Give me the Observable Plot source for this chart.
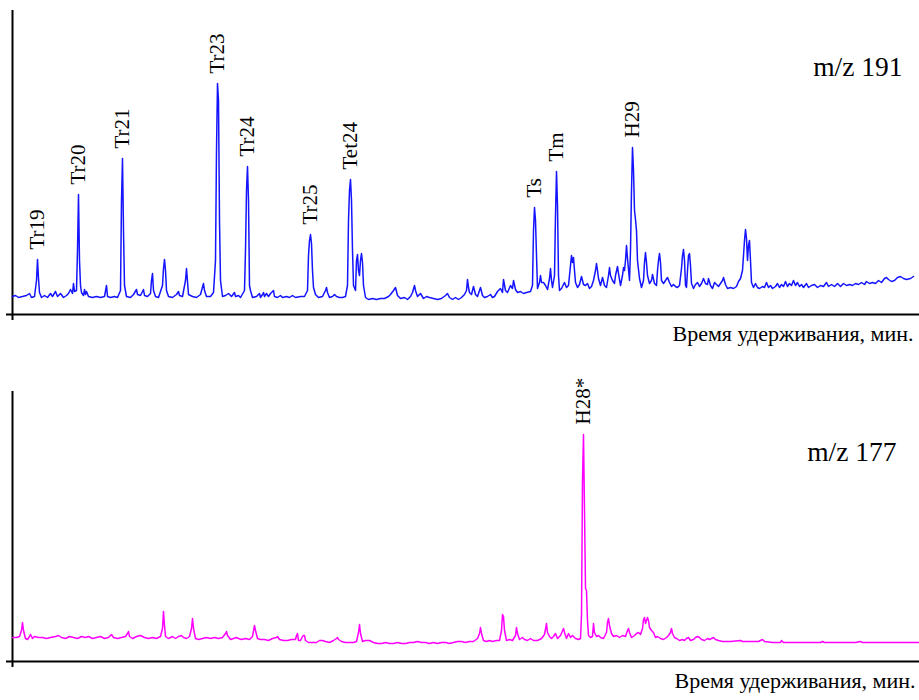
<!DOCTYPE html>
<html>
<head>
<meta charset="utf-8">
<script src="https://cdn.jsdelivr.net/npm/d3@7"></script>
<script src="https://cdn.jsdelivr.net/npm/@observablehq/plot@0.6"></script>
<style>
  html, body { margin: 0; padding: 0; background: #fff; }
  #chart { width: 919px; height: 700px; position: relative; }
  #chart svg { display: block; }
</style>
</head>
<body>
<div id="chart"></div>
<script>
// Retention time (arbitrary units) and intensity (arbitrary units)
const trace191 = [
[0,18],[3,19],[6,17],[10,18],[14,19],[17,21],[19,17],[22,18],[24,34],[25,55],[26,36],[27,22],[29,17],[32,19],[35,17],[38,21],[40,18],[43,23],[45,18],[48,21],[51,17],[54,19],[56,21],[58,25],[60,21],[61,31],[62,23],[64,24],[65,64],[66,120],[67,54],[68,29],[69,22],[71,19],[72,25],[73,20],[74,23],[76,18],[80,17],[84,18],[88,17],[92,18],[94,29],[95,18],[98,17],[102,18],[105,17],[108,24],[109,114],[110,156],[111,84],[112,29],[114,18],[118,17],[121,20],[124,25],[125,20],[128,19],[131,25],[132,19],[135,18],[138,21],[139,34],[140,41],[141,24],[143,18],[146,17],[150,29],[151,46],[152,55],[153,44],[154,24],[156,18],[160,17],[164,20],[166,23],[167,19],[170,18],[173,34],[174,46],[175,33],[176,20],[180,18],[184,17],[188,20],[191,31],[192,24],[194,18],[198,18],[201,22],[203,54],[204,164],[205,231],[206,214],[207,94],[208,34],[210,18],[213,19],[216,21],[219,18],[222,22],[223,18],[226,19],[228,17],[232,24],[233,64],[234,124],[235,148],[236,114],[237,29],[238,24],[240,17],[244,18],[247,21],[248,17],[250,20],[251,22],[252,18],[254,21],[256,18],[258,21],[261,24],[262,18],[265,17],[268,19],[270,17],[274,18],[277,17],[280,19],[283,17],[288,18],[292,18],[295,24],[296,59],[297,74],[298,80],[299,71],[300,44],[301,27],[303,20],[306,17],[310,18],[313,24],[314,27],[315,22],[317,17],[320,18],[322,20],[324,18],[327,17],[330,17],[333,18],[335,29],[336,94],[337,124],[338,135],[339,114],[340,64],[341,29],[343,24],[344,54],[345,60],[346,44],[347,39],[348,54],[349,61],[350,52],[351,29],[353,17],[356,15],[360,16],[364,15],[368,16],[372,16],[376,18],[378,20],[381,24],[383,27],[385,19],[388,16],[392,17],[395,15],[398,18],[400,22],[402,29],[403,24],[405,18],[408,21],[411,16],[414,18],[417,17],[421,16],[425,15],[429,16],[433,19],[435,21],[437,17],[440,15],[443,17],[446,15],[449,17],[452,20],[454,24],[455,35],[456,27],[457,22],[459,20],[461,28],[463,20],[465,18],[468,27],[470,19],[472,17],[475,18],[478,20],[480,17],[482,18],[485,23],[488,26],[490,22],[491,35],[493,24],[495,22],[498,29],[500,26],[501,34],[503,25],[505,22],[508,23],[511,21],[514,22],[518,23],[520,29],[521,84],[522,107],[523,94],[524,59],[525,26],[527,32],[528,39],[529,32],[531,32],[533,29],[535,25],[537,36],[538,46],[539,34],[540,27],[542,39],[543,99],[544,143],[545,109],[546,39],[547,24],[549,26],[551,30],[552,32],[554,27],[556,29],[558,49],[559,59],[560,52],[561,57],[562,44],[563,32],[565,27],[567,30],[569,38],[571,30],[573,29],[575,31],[577,26],[579,28],[581,34],[583,44],[584,51],[585,44],[586,36],[588,29],[590,37],[592,29],[594,27],[596,39],[597,47],[598,39],[600,34],[602,31],[603,39],[605,48],[606,41],[608,29],[610,39],[611,47],[612,44],[613,54],[614,69],[615,56],[617,34],[618,64],[619,124],[620,167],[621,144],[622,104],[623,95],[624,84],[625,54],[627,36],[629,27],[631,34],[632,52],[633,62],[634,52],[635,39],[637,31],[639,34],[640,40],[642,31],[644,29],[645,44],[646,54],[647,61],[648,52],[649,34],[651,31],[653,34],[655,37],[657,32],[659,28],[661,30],[663,28],[665,27],[667,29],[669,46],[670,59],[671,65],[672,54],[673,29],[674,27],[675,44],[676,59],[677,61],[678,49],[679,31],[681,26],[683,30],[685,32],[687,28],[689,31],[691,36],[693,31],[695,30],[696,36],[698,29],[700,26],[702,32],[704,30],[706,28],[708,31],[710,34],[711,37],[713,30],[715,26],[718,27],[721,26],[724,28],[726,33],[728,36],[730,44],[731,59],[732,74],[733,85],[734,76],[735,54],[736,69],[737,74],[738,54],[739,32],[741,27],[743,31],[745,27],[747,26],[750,28],[752,27],[754,32],[756,27],[758,29],[760,26],[763,28],[765,31],[767,27],[769,30],[771,28],[773,33],[775,28],[777,31],[779,29],[781,34],[783,29],[785,32],[787,28],[789,30],[791,27],[794,31],[796,27],[799,29],[802,30],[805,27],[808,29],[811,28],[814,32],[816,28],[819,30],[822,28],[825,31],[828,28],[831,31],[834,29],[837,30],[840,29],[843,31],[846,30],[849,32],[852,30],[854,33],[857,31],[860,32],[863,31],[866,34],[869,32],[872,36],[874,37],[876,35],[879,33],[882,34],[885,37],[888,38],[891,36],[894,35],[898,36],[901,38]
];

const trace177 = [
[0,24],[4,24],[7,25],[9,31],[10,39],[11,31],[13,23],[15,22],[17,25],[18,27],[20,23],[22,25],[26,24],[30,24],[34,23],[38,24],[43,25],[46,26],[49,24],[53,23],[57,25],[61,24],[65,23],[69,25],[73,24],[76,25],[80,23],[84,24],[88,25],[92,23],[96,24],[99,27],[101,24],[105,23],[109,24],[113,25],[115,28],[116,30],[117,25],[120,23],[124,25],[128,26],[132,24],[136,23],[140,24],[144,23],[148,25],[150,33],[151,50],[152,36],[153,25],[156,23],[160,25],[163,23],[166,25],[169,26],[171,24],[174,23],[177,25],[179,33],[180,43],[181,33],[183,23],[186,22],[190,23],[194,24],[198,23],[202,24],[206,23],[210,24],[213,28],[214,30],[215,26],[218,22],[221,23],[224,24],[226,23],[229,22],[233,23],[237,22],[240,25],[242,36],[243,31],[245,23],[248,22],[252,22],[256,21],[260,23],[264,24],[265,25],[267,22],[271,21],[275,21],[279,22],[283,22],[284,26],[285,28],[286,21],[288,21],[290,25],[291,26],[292,26],[293,21],[296,19],[300,19],[304,19],[307,21],[310,21],[313,20],[317,19],[321,21],[324,23],[325,24],[326,22],[329,20],[333,19],[337,19],[341,19],[344,20],[346,29],[347,37],[348,28],[350,20],[353,21],[357,21],[361,19],[365,18],[369,18],[373,19],[377,18],[381,18],[385,19],[389,18],[393,18],[397,19],[401,19],[405,20],[409,19],[413,19],[417,18],[421,19],[425,18],[429,19],[433,19],[437,18],[441,19],[445,20],[449,20],[453,19],[457,20],[461,20],[465,23],[467,28],[468,34],[469,28],[471,21],[474,20],[477,21],[480,20],[484,21],[487,21],[489,31],[490,47],[491,45],[492,31],[494,21],[497,22],[500,21],[503,26],[504,34],[505,28],[507,22],[510,24],[512,22],[515,21],[518,23],[521,21],[525,21],[529,23],[532,27],[534,38],[535,29],[537,25],[539,23],[541,25],[543,28],[545,23],[548,26],[551,33],[552,29],[554,23],[556,28],[558,24],[560,26],[563,23],[566,22],[568,23],[569,46],[570,181],[571,227],[572,151],[573,73],[574,71],[575,41],[576,26],[578,24],[580,25],[581,38],[582,29],[584,25],[586,26],[588,24],[591,23],[594,29],[595,39],[596,43],[597,36],[599,28],[601,25],[604,26],[607,24],[610,26],[613,25],[615,31],[616,33],[617,29],[619,24],[622,26],[624,28],[626,29],[628,27],[630,33],[631,42],[632,44],[633,38],[634,41],[635,44],[636,41],[637,34],[639,31],[641,29],[643,24],[645,25],[648,23],[651,22],[654,24],[656,26],[658,29],[659,33],[660,28],[662,24],[664,23],[667,21],[670,22],[672,21],[674,23],[676,24],[678,21],[681,22],[683,24],[685,25],[687,24],[689,22],[692,21],[695,23],[697,22],[699,23],[701,24],[703,22],[706,21],[710,20],[714,20],[718,20],[728,21],[730,20],[738,20],[746,20],[750,22],[752,20],[760,19],[768,19],[769,21],[771,19],[783,19],[798,19],[808,19],[810,20],[812,19],[828,19],[843,19],[848,20],[850,19],[868,19],[888,19],[907,19]
];

// Peak annotations
const peakNames191 = ["Tr19", "Tr20", "Tr21", "Tr23", "Tr24", "Tr25", "Tet24", "Ts", "Tm", "H29"];
const peakTimes191 = [25, 66, 110, 205, 235, 298, 338, 522, 544, 620];
const peakHeights191 = [55, 120, 156, 231, 148, 80, 135, 107, 143, 167];

const peakNames177 = ["H28*"];
const peakTimes177 = [571];
const peakHeights177 = [227];

const ionLabels = ["m/z 191", "m/z 177"];
const axisTitle = "Время удерживания, мин.";

const timeDomain = [0, 907];
const intensityMax191 = 304;
const intensityMax177 = 270;

const FONT = "'Liberation Serif', 'Times New Roman', serif";

function toRows(pairs) { return pairs.map(([t, v]) => ({t, v})); }
function peakRows(names, times, heights) {
  return names.map((name, i) => ({name, t: times[i], v: heights[i]}));
}

function panel({trace, color, peaks, ymax, marginTop, marginBottom, ionLabel, ionDx, ionDy, titleDx}) {
  return Plot.plot({
    width: 919,
    height: 350,
    marginLeft: 12,
    marginRight: 0,
    marginTop,
    marginBottom,
    style: {fontFamily: FONT, background: "white", overflow: "visible"},
    x: {domain: timeDomain, axis: null},
    y: {domain: [0, ymax], axis: null},
    marks: [
      Plot.ruleX([0], {stroke: "black", strokeWidth: 2, insetBottom: -6}),
      Plot.ruleY([0], {stroke: "black", strokeWidth: 2, insetLeft: -6}),
      Plot.line(toRows(trace), {x: "t", y: "v", stroke: color, strokeWidth: 1.5, strokeLinejoin: "round"}),
      Plot.text(peaks, {x: "t", y: "v", text: "name", rotate: -90, textAnchor: "start", dy: -10, fontSize: 21, fill: "black", fontFamily: FONT}),
      Plot.text([ionLabel], {frameAnchor: "top-right", textAnchor: "end", dx: ionDx, dy: ionDy, fontSize: 27.5, fill: "black", fontFamily: FONT}),
      Plot.text([axisTitle], {frameAnchor: "bottom-right", textAnchor: "end", dx: titleDx, dy: 26, fontSize: 22, fill: "black", fontFamily: FONT})
    ]
  });
}

const chart = document.getElementById("chart");
chart.append(panel({
  trace: trace191, color: "#1414ff",
  peaks: peakRows(peakNames191, peakTimes191, peakHeights191),
  ymax: intensityMax191, marginTop: 10, marginBottom: 36,
  ionLabel: ionLabels[0], ionDx: -17, ionDy: 46, titleDx: -6
}));
chart.append(panel({
  trace: trace177, color: "#ff00ff",
  peaks: peakRows(peakNames177, peakTimes177, peakHeights177),
  ymax: intensityMax177, marginTop: 41, marginBottom: 39,
  ionLabel: ionLabels[1], ionDx: -23, ionDy: 50, titleDx: -4
}));
</script>
</body>
</html>
